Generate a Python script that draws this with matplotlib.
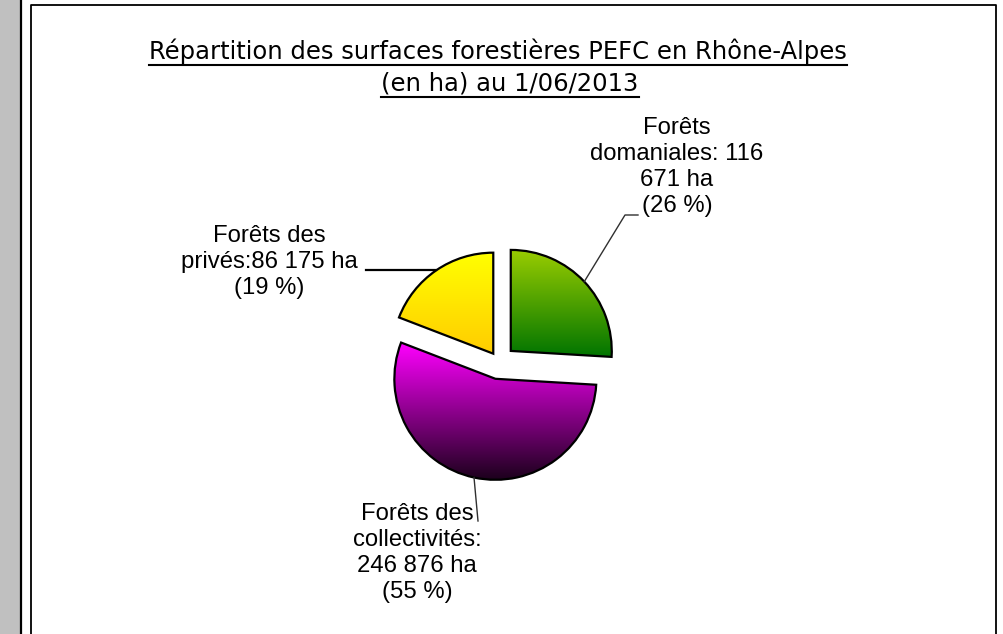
import numpy as np
import matplotlib.pyplot as plt
from matplotlib.colors import LinearSegmentedColormap
from matplotlib.lines import Line2D
from matplotlib.patches import Rectangle

# ---- data ----
categories = ['Forêts domaniales', 'Forêts des collectivités', 'Forêts des privés']
surfaces_ha = [116671, 246876, 86175]
percents = [26, 55, 19]
label_texts = ['Forêts\ndomaniales: 116\n671 ha\n(26 %)',
               'Forêts des\ncollectivités:\n246 876 ha\n(55 %)',
               'Forêts des\nprivés:86 175 ha\n(19 %)']
title_lines = ['Répartition des surfaces forestières PEFC en Rhône-Alpes',
               '(en ha) au 1/06/2013']

# gradient colours (top -> bottom) for each slice
grad_top = ['#99cc00', '#ff00ff', '#ffff00']
grad_bottom = ['#007400', '#1a001a', '#ffcc00']
explode = [0.16, 0.17, 0.10]

W, H = 1004, 634
CX, CY, R = 499, 362, 101   # pie centre / radius in pixels


def px(x, y):
    """pixel position (from top-left) -> data coords of the pie axes"""
    return (x - CX) / R, (CY - y) / R


fig = plt.figure(figsize=(W / 100, H / 100), dpi=100)
fig.patch.set_facecolor('white')

# page look: grey strip on the left and the chart frame
fig.add_artist(Rectangle((0, 0), 20 / W, 1, transform=fig.transFigure,
                         facecolor='#c0c0c0', edgecolor='none'))
fig.add_artist(Line2D([21 / W, 21 / W], [0, 1], transform=fig.transFigure,
                      color='black', lw=1.6))
fx = np.array([31.5, 31.5, 996.5, 996.5]) / W
fy = 1 - np.array([H, 4.5, 4.5, H]) / H
fig.add_artist(Line2D(fx, fy, transform=fig.transFigure, color='black', lw=1.3))

ax = fig.add_axes([0, 0, 1, 1])
wedges, _ = ax.pie(surfaces_ha, explode=explode, startangle=90, counterclock=False,
                   radius=1, wedgeprops=dict(facecolor='none', edgecolor='black',
                                             linewidth=1.6))

# vertical gradient fill clipped to each wedge
grad = np.linspace(0, 1, 256).reshape(-1, 1)
for w, c0, c1 in zip(wedges, grad_top, grad_bottom):
    v = w.get_path().vertices
    cmap = LinearSegmentedColormap.from_list('g', [c0, c1])
    im = ax.imshow(grad, cmap=cmap, aspect='auto', origin='upper', zorder=0.5,
                   extent=(v[:, 0].min(), v[:, 0].max(), v[:, 1].min(), v[:, 1].max()))
    im.set_clip_path(w)

ax.set_xlim(-CX / R, (W - CX) / R)
ax.set_ylim(-(H - CY) / R, CY / R)
ax.set_aspect('auto')
ax.axis('off')


def edge_point(w):
    a = np.deg2rad((w.theta1 + w.theta2) / 2)
    return w.center[0] + w.r * np.cos(a), w.center[1] + w.r * np.sin(a)


lab_font = dict(fontsize=17.2, family='Liberation Sans', color='black',
                ha='center', va='center', linespacing=1.22)
lab_pos = [px(677, 167), px(417, 553), px(269, 262)]
for txt, pos in zip(label_texts, lab_pos):
    ax.text(pos[0], pos[1], txt, **lab_font)

# leader lines
e = edge_point(wedges[0])
p1, p2 = px(625, 215), px(638, 215)
ax.plot([e[0], p1[0], p2[0]], [e[1], p1[1], p2[1]], color='#303030', lw=1.0)
e = edge_point(wedges[1])
p1 = px(478, 521)
ax.plot([e[0], p1[0]], [e[1], p1[1]], color='#303030', lw=1.0)
e = edge_point(wedges[2])
p1 = px(366, 0)
ax.plot([p1[0], e[0]], [e[1], e[1]], color='black', lw=1.6)

# title, underlined
title_x = [498, 510]
title_base = [59, 91]
ttexts = []
for line, xc, yb in zip(title_lines, title_x, title_base):
    t = fig.text(xc / W, 1 - yb / H, line, ha='center', va='baseline',
                 fontsize=17.5, family='DejaVu Sans', color='black')
    ttexts.append((t, yb))

fig.canvas.draw()
for t, yb in ttexts:
    bb = t.get_window_extent()
    yl = 1 - (yb + 6) / H
    fig.add_artist(Line2D([bb.x0 / W, bb.x1 / W], [yl, yl], transform=fig.transFigure,
                          color='black', lw=1.5))

fig.savefig('out.png', dpi=100)
